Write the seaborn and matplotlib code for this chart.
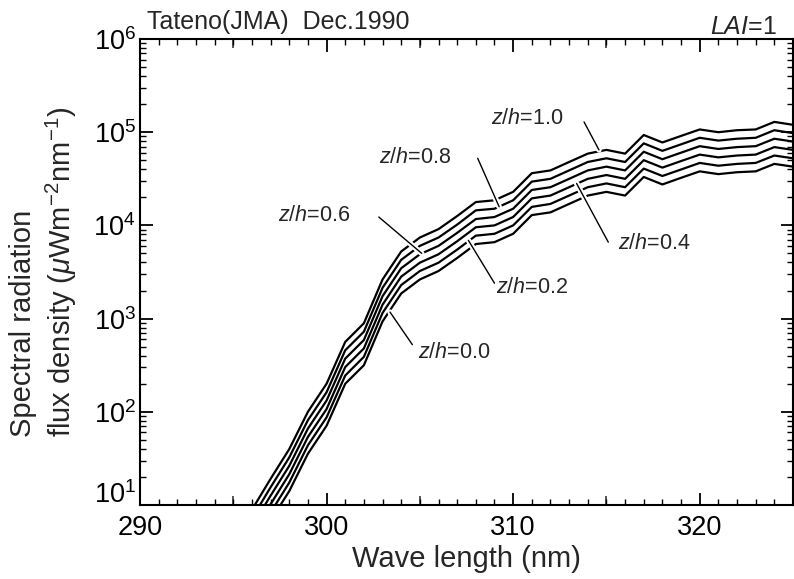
import matplotlib
matplotlib.use("Agg")
import matplotlib.pyplot as plt
import matplotlib.patheffects as pe
import matplotlib.transforms as mtransforms
import pandas as pd
import seaborn as sns
from matplotlib.ticker import MultipleLocator, LogLocator, NullFormatter

# ---------------- data ----------------
wavelength = list(range(296, 326))  # nm

zh_1_0 = [8.9, 19.1, 39.8, 100, 200, 562, 891, 2630, 5250, 7410,
          9120, 12600, 17800, 18600, 22900, 36300, 38900, 47900, 58900, 64600,
          58900, 93300, 77600, 91200, 107000, 100000, 105000, 107000, 129000, 120000]
zh_0_8 = [7.2, 15.5, 32.4, 81.3, 162, 457, 724, 2140, 4270, 6030,
          7410, 10200, 14500, 15100, 18600, 29500, 31600, 38900, 47900, 52500,
          47900, 75900, 63100, 74100, 87100, 81300, 85100, 87100, 105000, 97700]
zh_0_6 = [5.9, 12.6, 26.3, 66.1, 132, 372, 589, 1740, 3470, 4900,
          6030, 8320, 11700, 12300, 15100, 24000, 25700, 31600, 38900, 42700,
          38900, 61700, 51300, 60300, 70800, 66100, 69200, 70800, 85100, 79400]
zh_0_4 = [4.8, 10.2, 21.4, 53.7, 107, 302, 479, 1410, 2820, 3980,
          4900, 6760, 9550, 10000, 12300, 19500, 20900, 25700, 31600, 34700,
          31600, 50100, 41700, 49000, 57500, 53700, 56200, 57500, 69200, 64600]
zh_0_2 = [3.9, 8.3, 17.4, 43.7, 87.1, 245, 389, 1150, 2290, 3240,
          3980, 5500, 7760, 8130, 10000, 15800, 17000, 20900, 25700, 28200,
          25700, 40700, 33900, 39800, 46800, 43700, 45700, 46800, 56200, 52500]
zh_0_0 = [3.2, 6.8, 14.1, 35.5, 70.8, 200, 316, 933, 1860, 2630,
          3240, 4470, 6310, 6610, 8130, 12900, 13800, 17000, 20900, 22900,
          20900, 33100, 27500, 32400, 38000, 35500, 37200, 38000, 45700, 42700]

series_names = ["z/h=1.0", "z/h=0.8", "z/h=0.6", "z/h=0.4", "z/h=0.2", "z/h=0.0"]
series_values = [zh_1_0, zh_0_8, zh_0_6, zh_0_4, zh_0_2, zh_0_0]

label_texts = [r"$z$/$h$=1.0", r"$z$/$h$=0.8", r"$z$/$h$=0.6",
               r"$z$/$h$=0.4", r"$z$/$h$=0.2", r"$z$/$h$=0.0"]

x_ticks = [290, 300, 310, 320]
x_mid_ticks = [295, 305, 315, 325]
y_ticks = [1e1, 1e2, 1e3, 1e4, 1e5, 1e6]

# ---------------- build long table ----------------
rows = []
for name, vals in zip(series_names, series_values):
    for w, v in zip(wavelength, vals):
        rows.append({"wavelength": w, "flux": v, "series": name})
df = pd.DataFrame(rows)

# ---------------- style ----------------
sns.set_style("ticks")
plt.rcParams["font.family"] = ["Liberation Sans", "DejaVu Sans"]
plt.rcParams["mathtext.fontset"] = "custom"
plt.rcParams["mathtext.rm"] = "Liberation Sans"
plt.rcParams["mathtext.it"] = "Liberation Sans:italic"
plt.rcParams["mathtext.bf"] = "Liberation Sans:bold"

fig = plt.figure(figsize=(7.94, 5.79), dpi=100)
ax = fig.add_axes([140 / 794, 1 - 505 / 579, 653 / 794, 466 / 579])

sns.lineplot(data=df, x="wavelength", y="flux", hue="series",
             hue_order=series_names, palette=["black"] * 6,
             estimator=None, sort=False, legend=False,
             linewidth=1.6, ax=ax)

ax.set_yscale("log")
ax.set_xlim(290, 325)
ax.set_ylim(10, 1e6)

ax.set_xticks(x_ticks)
ax.xaxis.set_minor_locator(MultipleLocator(1))
ax.set_yticks(y_ticks)
ax.yaxis.set_minor_locator(LogLocator(base=10, subs=range(2, 10), numticks=20))
ax.yaxis.set_minor_formatter(NullFormatter())

ax.tick_params(which="both", direction="in", top=True, right=True,
               colors="black")
ax.tick_params(which="major", length=9, width=1.3, labelsize=19.5)
ax.tick_params(which="minor", length=4.5, width=1.0)
ax.tick_params(axis="x", which="major", pad=7)
ax.tick_params(axis="y", which="major", pad=3)

# medium ticks every 5 nm (bottom and top)
for side in ("bottom", "top"):
    sec = ax.secondary_xaxis(side)
    sec.set_xticks(x_mid_ticks)
    sec.tick_params(direction="in", length=6.5, width=1.1, labelbottom=False,
                    labeltop=False)
    for s in sec.spines.values():
        s.set_visible(False)

# lift the lowest y label a little (as in the reference) so it clears "290"
t0 = ax.yaxis.get_major_ticks()[0]
t0.label1.set_transform(t0.label1.get_transform() +
                        mtransforms.ScaledTranslation(0, 13 / 100, fig.dpi_scale_trans))

for s in ax.spines.values():
    s.set_linewidth(1.5)
    s.set_color("black")

ax.set_xlabel("Wave length (nm)", fontsize=21)
ax.xaxis.set_label_coords(0.5, -0.085)
ax.set_ylabel("Spectral radiation\nflux density ($\\mu$Wm$^{-2}$nm$^{-1}$)",
              fontsize=21, linespacing=1.25, multialignment="left")
ax.yaxis.set_label_coords(-0.094, 0.5)

# ---------------- labels with leader lines ----------------
label_pos = [(308.8, 10 ** 5.15), (302.8, 10 ** 4.73), (297.4, 10 ** 4.11),
             (315.6, 10 ** 3.81), (309.1, 10 ** 3.33), (304.9, 10 ** 2.64)]
leader_from = [(313.8, 10 ** 5.11), (308.1, 10 ** 4.72), (302.8, 10 ** 4.09),
               (315.1, 10 ** 3.82), (309.0, 10 ** 3.38), (304.6, 10 ** 2.72)]
leader_to = [(314.6, 10 ** 4.81), (309.25, 10 ** 4.20), (305.1, 10 ** 3.70),
             (313.4, 10 ** 4.45), (307.6, 10 ** 3.84), (303.4, 10 ** 3.07)]

for txt, pos, a, b in zip(label_texts, label_pos, leader_from, leader_to):
    ax.text(pos[0], pos[1], txt, fontsize=15.5, ha="left", va="center")
    ann = ax.annotate("", xy=b, xytext=a,
                      arrowprops=dict(arrowstyle="-", lw=1.0, color="black",
                                      shrinkA=0, shrinkB=0))
    ann.arrow_patch.set_path_effects([pe.Stroke(linewidth=4, foreground="white"),
                                      pe.Normal()])

fig.text(147 / 794, 1 - 22 / 579, "Tateno(JMA)  Dec.1990", fontsize=18,
         ha="left", va="center")
fig.text(777 / 794, 1 - 27 / 579, r"$LAI$=1", fontsize=18,
         ha="right", va="center")

fig.savefig("out.png", dpi=100)
